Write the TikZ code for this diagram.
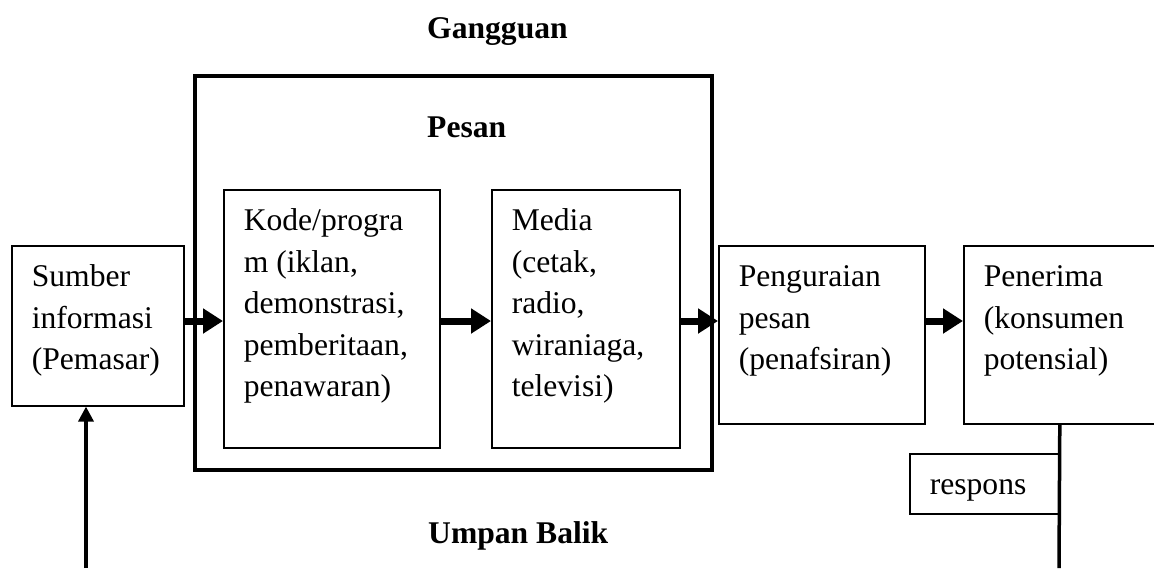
\documentclass[tikz,border=0pt]{standalone}
\usepackage{fontspec}
\setmainfont{Liberation Serif}
\usetikzlibrary{arrows.meta}

\tikzset{
	kotak/.style 2 args={draw, line width=1.6pt, anchor=north west, inner xsep=20pt, inner ysep=12pt,
		font=\fontsize{31.6}{41.5}\selectfont,
		execute at begin node={\begin{minipage}[t][#2][t]{#1}\raggedright\strut},
		execute at end node={\end{minipage}}},
	judul/.style={anchor=base west, inner sep=0pt, font=\fontsize{31.6}{41.5}\selectfont\bfseries},
	panah/.style={line width=7pt, -{Triangle[length=20pt,width=24pt]}},
	garis/.style={line width=3.5pt},
}

\begin{document}
\begin{tikzpicture}[x=1pt, y=-1pt]
		\useasboundingbox (0,0) rectangle (1154,568);
		\node (bingkai) [draw, line width=3.5pt, anchor=north west, minimum width=517pt, minimum height=394pt, inner sep=0pt] at (193,74) {};
		\node (gangguan) [judul] at (427,38) {Gangguan};
		\node (pesan)    [judul] at (427,137) {Pesan};
		\node (umpan)    [judul] at (428,543) {Umpan Balik};
		\node (sumber)  [kotak={132pt}{136pt}] at (11,245)  {Sumber\\informasi\\(Pemasar)};
		\node (kode)    [kotak={176pt}{234pt}] at (223,189) {Kode/progra\\m (iklan,\\demonstrasi,\\pemberitaan,\\penawaran)};
		\node (media)   [kotak={148pt}{234pt}] at (491,189) {Media\\(cetak,\\radio,\\wiraniaga,\\televisi)};
		\node (urai)    [kotak={166pt}{154pt}] at (718,245) {Penguraian\\pesan\\(penafsiran)};
		\node (terima)  [kotak={152pt}{154pt}] at (963,245) {Penerima\\(konsumen\\potensial)};
		\node (respons) [kotak={110pt}{36pt}]  at (909,453) {respons};
		\coordinate (jalur) at (0,321);
		\coordinate (bawahkiri) at (86,568);
		\coordinate (bawahkanan) at (1059,568);
		\draw[panah] (sumber.east |- jalur) -- (kode.west |- jalur);
		\draw[panah] (kode.east |- jalur)   -- (media.west |- jalur);
		\draw[panah] (media.east |- jalur)  -- (urai.west |- jalur);
		\draw[panah] (urai.east |- jalur)   -- (terima.west |- jalur);
		\draw[garis, -{Triangle[length=15pt,width=15pt]}] (bawahkiri) -- (bawahkiri |- sumber.south);
		\draw[garis] (terima.south) -- (bawahkanan);
\end{tikzpicture}
\end{document}
